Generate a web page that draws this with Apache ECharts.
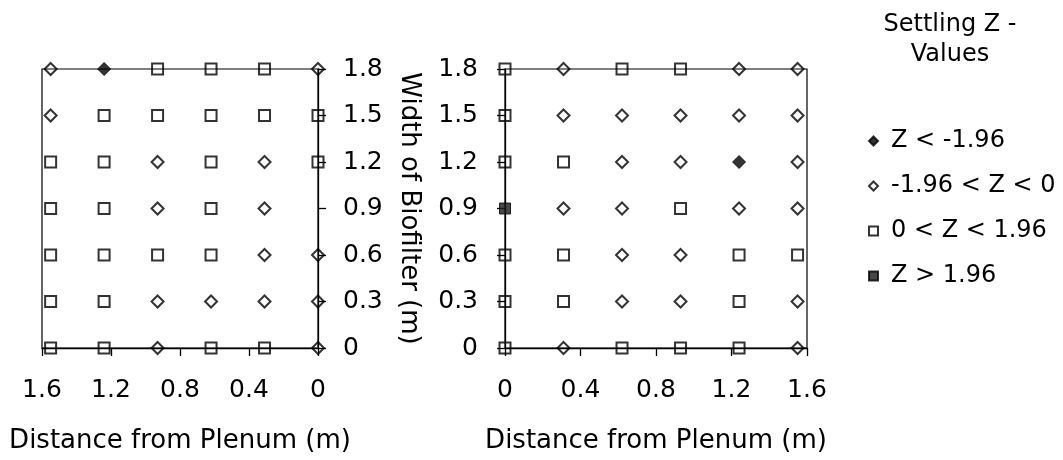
<!DOCTYPE html>
<html>
<head>
<meta charset="utf-8">
<script src="https://cdn.jsdelivr.net/npm/echarts@6/dist/echarts.min.js"></script>
<style>
  html, body { margin: 0; padding: 0; background: #fff; }
  #chart { width: 1063px; height: 460px; }
</style>
</head>
<body>
<div id="chart"></div>
<script>
// class codes: A = Z < -1.96, B = -1.96 < Z < 0, C = 0 < Z < 1.96, D = Z > 1.96, '' = no reading
const classNames = { A: 'Z < -1.96', B: '-1.96 < Z < 0', C: '0 < Z < 1.96', D: 'Z > 1.96' }
const rowY = [1.8, 1.5, 1.2, 0.9, 0.6, 0.3, 0]

// left plot, columns as drawn left to right (axis is reversed)
const leftColX = [1.55, 1.24, 0.93, 0.62, 0.31, 0]
const leftGrid = [
  ['B', 'A', 'C', 'C', 'C', 'B'],
  ['B', 'C', 'C', 'C', 'C', 'C'],
  ['C', 'C', 'B', 'C', 'B', 'C'],
  ['C', 'C', 'B', 'C', 'B', ''],
  ['C', 'C', 'C', 'C', 'B', 'B'],
  ['C', 'C', 'B', 'B', 'B', 'B'],
  ['C', 'C', 'B', 'C', 'C', 'B']
]

// right plot
const rightColX = [0, 0.31, 0.62, 0.93, 1.24, 1.55]
const rightGrid = [
  ['C', 'B', 'C', 'C', 'B', 'B'],
  ['C', 'B', 'B', 'B', 'B', 'B'],
  ['C', 'C', 'B', 'B', 'A', 'B'],
  ['D', 'B', 'B', 'C', 'B', 'B'],
  ['C', 'C', 'B', 'B', 'C', 'C'],
  ['C', 'C', 'B', 'B', 'C', 'B'],
  ['C', 'B', 'C', 'C', 'C', 'B']
]

const xTicks = { min: 0, max: 1.6, interval: 0.4 }
const yTicks = { min: 0, max: 1.8, interval: 0.3 }

const FONT = 'DejaVu Sans'
const markerStyle = {
  A: { symbol: 'diamond', symbolSize: 13, itemStyle: { color: '#000', borderColor: '#000', borderWidth: 1 } },
  B: { symbol: 'diamond', symbolSize: 12, itemStyle: { color: 'rgba(0,0,0,0)', borderColor: '#000', borderWidth: 2 } },
  C: { symbol: 'rect', symbolSize: 11, itemStyle: { color: 'rgba(0,0,0,0)', borderColor: '#000', borderWidth: 2 } },
  D: { symbol: 'rect', symbolSize: 11, itemStyle: { color: '#1a1a1a', borderColor: '#000', borderWidth: 1 } }
}

function pointsFor(grid, colX, code) {
  const out = []
  grid.forEach((row, r) => {
    row.forEach((c, i) => {
      if (c === code) out.push([colX[i], rowY[r]])
    })
  })
  return out
}

const series = []
;[[leftGrid, leftColX, 0], [rightGrid, rightColX, 1]].forEach(([grid, colX, idx]) => {
  Object.keys(classNames).forEach(code => {
    series.push(Object.assign({
      name: classNames[code],
      type: 'scatter',
      xAxisIndex: idx,
      yAxisIndex: idx,
      clip: false,
      data: pointsFor(grid, colX, code)
    }, markerStyle[code]))
  })
})

const axisLine = { show: true, lineStyle: { color: '#000', width: 1.3 } }
const axisTick = { show: true, inside: false, length: 8, lineStyle: { color: '#000', width: 1.3 } }
const labelStyle = { color: '#000', fontFamily: FONT, fontSize: 25 }
const nameStyle = { color: '#000', fontFamily: FONT, fontSize: 26 }

const chart = echarts.init(document.getElementById('chart'))
chart.setOption({
  backgroundColor: '#fff',
  animation: false,
  title: {
    text: 'Settling Z -\nValues',
    left: 945,
    top: 5,
    textAlign: 'center',
    textStyle: { color: '#000', fontFamily: FONT, fontSize: 24, fontWeight: 'normal', lineHeight: 30, align: 'center' }
  },
  legend: {
    orient: 'vertical',
    left: 868,
    top: 129,
    padding: 0,
    itemGap: 21,
    itemWidth: 9,
    itemHeight: 9,
    textStyle: { color: '#000', fontFamily: FONT, fontSize: 24, lineHeight: 24, padding: [0, 0, 0, 8] },
    data: [
      { name: classNames.A, icon: 'diamond' },
      { name: classNames.B, icon: 'diamond' },
      { name: classNames.C, icon: 'rect' },
      { name: classNames.D, icon: 'rect' }
    ]
  },
  grid: [
    { left: 42, top: 69, width: 276, height: 279, show: true, borderColor: '#000', borderWidth: 1.2, outerBoundsMode: 'none' },
    { left: 505, top: 69, width: 302, height: 279, show: true, borderColor: '#000', borderWidth: 1.2, outerBoundsMode: 'none' }
  ],
  xAxis: [
    {
      gridIndex: 0, type: 'value', inverse: true, ...xTicks,
      name: 'Distance from Plenum (m)', nameLocation: 'middle', nameGap: 80, nameTextStyle: nameStyle,
      axisLine, axisTick, splitLine: { show: false },
      axisLabel: Object.assign({ margin: 30 }, labelStyle)
    },
    {
      gridIndex: 1, type: 'value', ...xTicks,
      name: 'Distance from Plenum (m)', nameLocation: 'middle', nameGap: 80, nameTextStyle: nameStyle,
      axisLine, axisTick, splitLine: { show: false },
      axisLabel: Object.assign({ margin: 30 }, labelStyle)
    }
  ],
  yAxis: [
    {
      gridIndex: 0, type: 'value', position: 'right', ...yTicks,
      name: 'Width of Biofilter (m)', nameLocation: 'middle', nameRotate: -90, nameGap: 78, nameTextStyle: nameStyle,
      axisLine, axisTick, splitLine: { show: false },
      axisLabel: Object.assign({ margin: 25 }, labelStyle)
    },
    {
      gridIndex: 1, type: 'value', position: 'left', ...yTicks,
      axisLine, axisTick, splitLine: { show: false },
      axisLabel: Object.assign({ margin: 27 }, labelStyle)
    }
  ],
  series
})
</script>
</body>
</html>
